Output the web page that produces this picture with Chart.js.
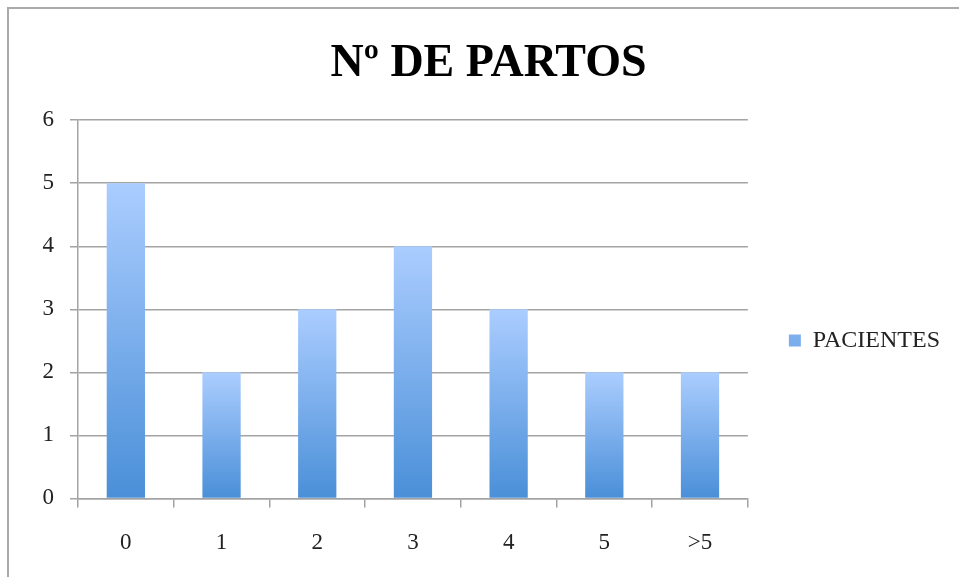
<!DOCTYPE html>
<html>
<head>
<meta charset="utf-8">
<title>Nº de partos</title>
<script src="https://cdn.jsdelivr.net/npm/chart.js@4/dist/chart.umd.min.js"></script>
<style>
  html, body { margin: 0; padding: 0; background: #fff; }
  #wrap { width: 959px; height: 577px; position: relative; }
</style>
</head>
<body>
<div id="wrap"><canvas id="grafico"></canvas></div>
<script>
// Datos del grafico
const categorias = ['0', '1', '2', '3', '4', '5', '>5'];
const pacientes = [5, 2, 3, 4, 3, 2, 2];
const ticksY = [0, 1, 2, 3, 4, 5, 6];

const fuente = "'Liberation Serif', 'Times New Roman', serif";
const gris = '#a3a3a3';

// Degradado vertical de cada barra: claro arriba, oscuro abajo
const colorBarra = (ctx) => {
  const chart = ctx.chart;
  if (!chart.chartArea || ctx.type !== 'data') return '#70a7ea';
  const y = chart.scales.y;
  const arriba = y.getPixelForValue(ctx.raw);
  const base = y.getPixelForValue(0);
  const g = chart.ctx.createLinearGradient(0, arriba, 0, base);
  g.addColorStop(0, '#abcdff');
  g.addColorStop(1, '#4a8fd8');
  return g;
};

// Marco gris arriba y a la izquierda
const marco = {
  id: 'marco',
  beforeDraw(chart) {
    const c = chart.ctx;
    c.save();
    c.strokeStyle = '#aaaaaa';
    c.lineWidth = 2;
    c.beginPath();
    c.moveTo(8, chart.height);
    c.lineTo(8, 8);
    c.lineTo(chart.width, 8);
    c.stroke();
    c.restore();
  }
};

// Desplaza la leyenda y el titulo un poco a la derecha
const moverCajas = {
  id: 'moverCajas',
  afterLayout(chart) {
    const l = chart.legend;
    if (l) {
      const dx = 31, dy = 51;
      l.left += dx; l.right += dx;
      l.top += dy; l.bottom += dy;
    }
    const t = chart.titleBlock;
    if (t) {
      t.left += 25; t.right += 25;
    }
  }
};

new Chart(document.getElementById('grafico'), {
  type: 'bar',
  data: {
    labels: categorias,
    datasets: [{
      label: 'PACIENTES',
      data: pacientes,
      backgroundColor: colorBarra,
      borderWidth: 0,
      barPercentage: 0.4,
      categoryPercentage: 1
    }]
  },
  options: {
    responsive: true,
    maintainAspectRatio: false,
    animation: false,
    layout: { padding: { left: 8, right: 40, top: 0, bottom: -2 } },
    plugins: {
      title: {
        display: true,
        text: 'Nº DE PARTOS',
        color: '#000',
        font: { family: fuente, size: 46, weight: 'bold' },
        padding: { top: 37, bottom: 28 }
      },
      legend: {
        position: 'right',
        labels: {
          color: '#222',
          font: { family: fuente, size: 24 },
          boxWidth: 12,
          boxHeight: 12,
          padding: 10
        }
      },
      tooltip: { enabled: false }
    },
    scales: {
      x: {
        grid: {
          offset: true,
          drawOnChartArea: false,
          drawTicks: true,
          tickLength: 9,
          color: gris,
          lineWidth: 1.5
        },
        border: { color: gris, width: 1.5 },
        ticks: {
          color: '#222',
          font: { family: fuente, size: 23 },
          padding: 22
        }
      },
      y: {
        min: 0,
        max: 6,
        afterBuildTicks: (axis) => { axis.ticks = ticksY.map(v => ({ value: v })); },
        afterFit: (axis) => { axis.width = 70; },
        grid: {
          color: gris,
          lineWidth: 1.5,
          drawTicks: true,
          tickLength: 8
        },
        border: { color: gris, width: 1.5 },
        ticks: {
          color: '#222',
          font: { family: fuente, size: 23 },
          padding: 16
        }
      }
    }
  },
  plugins: [marco, moverCajas]
});
</script>
</body>
</html>
